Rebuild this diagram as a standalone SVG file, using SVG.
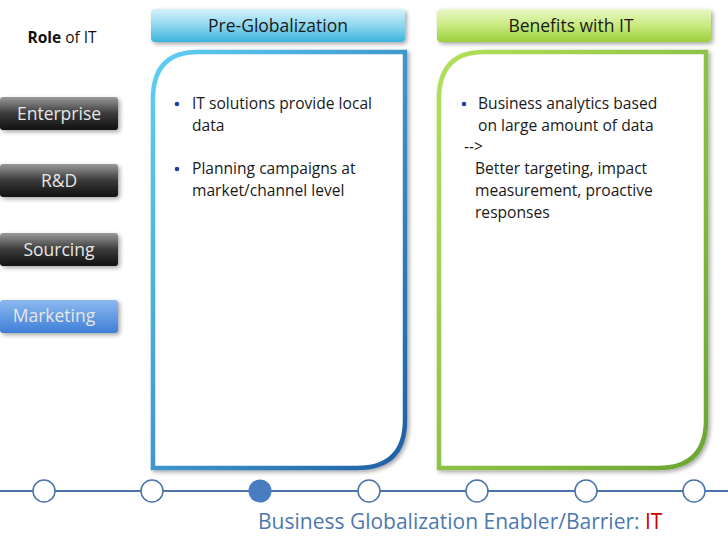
<svg xmlns="http://www.w3.org/2000/svg" width="728" height="546" viewBox="0 0 728 546">
<defs>
<linearGradient id="gDark" x1="0" y1="0" x2="0" y2="1"><stop offset="0" stop-color="#9a9a9a"/><stop offset="0.5" stop-color="#3a3a3a"/><stop offset="1" stop-color="#111"/></linearGradient>
<linearGradient id="gBlue" x1="0" y1="0" x2="0" y2="1"><stop offset="0" stop-color="#8db8f0"/><stop offset="1" stop-color="#3f7fd6"/></linearGradient>
<linearGradient id="gCyan" x1="0" y1="0" x2="0" y2="1"><stop offset="0" stop-color="#d4f2fb"/><stop offset="0.5" stop-color="#8fd7ef"/><stop offset="1" stop-color="#3bb3dc"/></linearGradient>
<linearGradient id="gGreen" x1="0" y1="0" x2="0" y2="1"><stop offset="0" stop-color="#eaf8c8"/><stop offset="0.5" stop-color="#c8ea7e"/><stop offset="1" stop-color="#9ccf3c"/></linearGradient>
<linearGradient id="sBlue" x1="0" y1="0" x2="1" y2="1"><stop offset="0" stop-color="#5fd0f4"/><stop offset="1" stop-color="#1f5fa4"/></linearGradient>
<linearGradient id="sGreen" x1="0" y1="0" x2="1" y2="1"><stop offset="0" stop-color="#b4e05a"/><stop offset="1" stop-color="#6aa532"/></linearGradient>
<filter id="sh" x="-10%" y="-10%" width="130%" height="130%"><feDropShadow dx="2" dy="2" stdDeviation="2" flood-color="#000" flood-opacity="0.35"/></filter>
</defs>
<style>
text{font-family:"Open Sans","Noto Sans","Liberation Sans",sans-serif}
.btn{font-size:17.5px;fill:#e6e6e6;text-anchor:middle}
.hdr{font-size:17.5px;fill:#1a1a1a;text-anchor:middle}
.body{font-size:15.6px;fill:#1a1a1a}
.bul{fill:#1f3fa8}
.node{fill:#fff;stroke:#4a73ab;stroke-width:1.5}
</style>
<text x="62" y="43" font-size="15.5" text-anchor="middle" fill="#111"><tspan font-weight="bold">Role</tspan> of IT</text>
<g id="enterprise"><rect x="0" y="97" width="118" height="33" rx="3" fill="url(#gDark)" filter="url(#sh)"/><text class="btn" x="59" y="120">Enterprise</text></g>
<g id="rnd"><rect x="0" y="164" width="118" height="33" rx="3" fill="url(#gDark)" filter="url(#sh)"/><text class="btn" x="59" y="187">R&amp;D</text></g>
<g id="sourcing"><rect x="0" y="233" width="118" height="33" rx="3" fill="url(#gDark)" filter="url(#sh)"/><text class="btn" x="59" y="256">Sourcing</text></g>
<g id="marketing"><rect x="0" y="300" width="118" height="33" rx="3" fill="url(#gBlue)" filter="url(#sh)"/><text class="btn" x="54" y="322" font-size="15.5" fill="#f0f4ff">Marketing</text></g>
<g id="pre-header"><rect x="151" y="9" width="254" height="33" rx="4" fill="url(#gCyan)" filter="url(#sh)"/><text class="hdr" x="278" y="32">Pre-Globalization</text></g>
<g id="pre-box"><path d="M198 52 H405 V420 Q405 468 357 468 H153 V99 Q153 52 198 52 Z" fill="#fff" stroke="url(#sBlue)" stroke-width="4.5" filter="url(#sh)"/>
<circle class="bul" cx="177" cy="104" r="2.3"/><text class="body" x="192" y="109">IT solutions provide local</text><text class="body" x="192" y="131">data</text>
<circle class="bul" cx="177" cy="169" r="2.3"/><text class="body" x="192" y="174">Planning campaigns at</text><text class="body" x="192" y="196">market/channel level</text></g>
<g id="ben-header"><rect x="437" y="9" width="274" height="33" rx="4" fill="url(#gGreen)" filter="url(#sh)"/><text class="hdr" x="571" y="32">Benefits with IT</text></g>
<g id="ben-box"><path d="M484 52 H706 V420 Q706 468 658 468 H439 V99 Q439 52 484 52 Z" fill="#fff" stroke="url(#sGreen)" stroke-width="4.5" filter="url(#sh)"/>
<circle class="bul" cx="464" cy="104" r="2.3"/><text class="body" x="478" y="109">Business analytics based</text><text class="body" x="478" y="131">on large amount of data</text>
<text class="body" x="464" y="152">--&gt;</text><text class="body" x="475" y="174">Better targeting, impact</text><text class="body" x="475" y="196">measurement, proactive</text><text class="body" x="475" y="218">responses</text></g>
<g id="connectors"><line x1="0" y1="491" x2="728" y2="491" stroke="#4a73ab" stroke-width="2"/></g>
<g id="timeline">
<circle class="node" cx="44" cy="491" r="11"/><circle class="node" cx="152" cy="491" r="11"/><circle cx="260" cy="491" r="11.5" fill="#4a7cc2"/><circle class="node" cx="369" cy="491" r="11"/><circle class="node" cx="477" cy="491" r="11"/><circle class="node" cx="586" cy="491" r="11"/><circle class="node" cx="694" cy="491" r="11"/>
</g>
<text x="258" y="529" font-size="21" fill="#4d79ad">Business Globalization Enabler/Barrier: <tspan fill="#cc0000">IT</tspan></text>
</svg>
